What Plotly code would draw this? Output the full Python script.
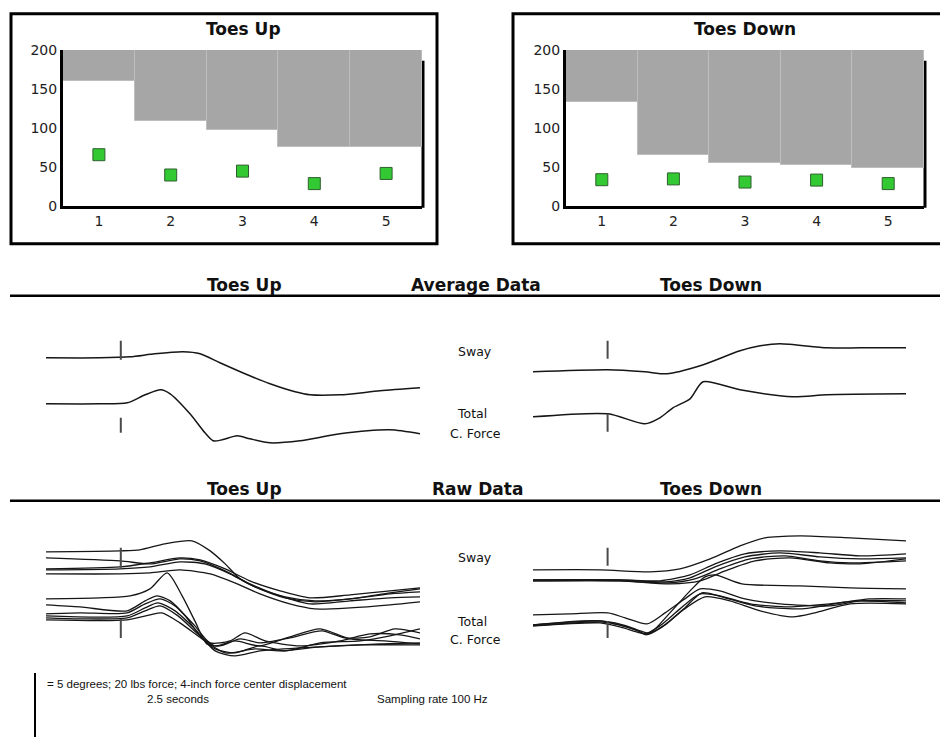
import plotly.graph_objects as go

W, H = 940, 737

# ---------------- top panels: scores per trial ----------------
trials = [1, 2, 3, 4, 5]
score_ceiling = 200
y_ticks = [0, 50, 100, 150, 200]
up_threshold = [160, 109, 98, 76, 76]
up_scores = [66, 40, 45, 29, 42]
down_threshold = [133, 66, 56, 53, 49]
down_scores = [34, 35, 31, 33.5, 29]

# ---------------- average traces (time in s, amplitude units) ----------------
onset_s = 2.0
avg_up_sway_t = [0, 1.44, 2.25, 2.91, 3.66, 4.12, 4.65, 5.32, 5.99, 6.66, 7.06, 7.86, 8.93, 10]
avg_up_sway_v = [10.3, 10.3, 10.4, 10.7, 10.9, 10.7, 9.8, 8.7, 7.7, 6.9, 6.6, 6.6, 7.0, 7.3]
avg_up_force_t = [0, 1.44, 2.17, 2.65, 3.07, 3.32, 3.85, 4.25, 4.47, 4.71, 5.11, 5.45, 5.99, 6.79, 7.86, 9.2, 10]
avg_up_force_v = [5.7, 5.7, 5.8, 6.6, 7.1, 6.7, 4.7, 2.8, 2.0, 2.1, 2.5, 2.2, 1.8, 2.0, 2.7, 3.1, 2.7]
avg_down_sway_t = [0, 2.01, 3.0, 3.59, 4.48, 5.55, 6.09, 6.62, 7.88, 8.77, 10]
avg_down_sway_v = [8.9, 9.1, 8.9, 8.7, 9.5, 11.0, 11.5, 11.7, 11.3, 11.3, 11.3]
avg_down_force_t = [0, 2.01, 3.0, 3.4, 3.75, 4.21, 4.56, 5.55, 6.97, 7.88, 10]
avg_down_force_v = [4.4, 4.7, 3.7, 4.3, 5.3, 6.2, 7.9, 7.1, 6.4, 6.6, 6.7]
avg_up_marks = {"sway": [12.0, 10.1], "force": [4.3, 2.8]}
avg_down_marks = {"sway": [12.0, 10.2], "force": [4.7, 2.9]}

# ---------------- raw traces: one (t, v) pair per trial ----------------
raw_up_sway = [
    ([0, 1.98, 2.51, 3.18, 3.9, 4.39, 4.79, 5.19, 5.72, 6.39, 7.19, 8.13, 9.2, 10],
     [10.9, 11.0, 11.1, 11.7, 12.0, 11.0, 9.7, 8.2, 7.2, 6.4, 6.0, 6.2, 6.8, 7.2]),
    ([0, 1.98, 2.78, 3.58, 4.12, 4.79, 5.45, 6.26, 7.06, 8.13, 9.2, 10],
     [10.3, 10.0, 9.7, 10.2, 10.0, 9.0, 7.7, 6.5, 5.7, 6.0, 6.3, 6.4]),
    ([0, 1.98, 2.78, 3.58, 4.12, 4.79, 5.45, 6.26, 7.06, 8.13, 9.2, 10],
     [9.2, 9.4, 9.8, 10.3, 10.1, 9.2, 8.0, 7.0, 6.3, 6.6, 7.0, 7.3]),
    ([0, 1.98, 2.78, 3.58, 4.25, 4.92, 5.59, 6.39, 7.19, 8.13, 9.2, 10],
     [9.1, 9.2, 9.4, 9.9, 9.7, 8.7, 7.4, 6.3, 5.9, 6.2, 6.7, 6.9]),
    ([0, 1.98, 2.78, 3.58, 4.39, 5.05, 5.72, 6.52, 7.19, 8.13, 9.2, 10],
     [8.7, 8.7, 8.8, 9.1, 8.7, 7.8, 6.7, 5.7, 5.2, 5.3, 5.6, 5.9]),
]
raw_up_force = [
    ([0, 1.44, 2.25, 2.78, 3.24, 3.64, 3.98, 4.3, 4.65, 5.19, 5.72, 6.52, 7.38, 7.99, 8.66, 9.33, 10],
     [6.2, 6.3, 6.5, 7.2, 8.8, 6.5, 4.0, 1.7, 1.5, 2.2, 1.8, 2.3, 3.0, 2.3, 2.4, 3.2, 2.8]),
    ([0, 0.91, 2.17, 2.65, 2.97, 3.32, 3.72, 4.12, 4.52, 5.05, 5.72, 6.39, 7.33, 8.4, 9.2, 10],
     [5.6, 5.4, 5.0, 6.0, 6.5, 6.0, 4.5, 2.5, 1.2, 0.8, 1.5, 1.0, 1.8, 2.0, 2.5, 3.2]),
    ([0, 0.91, 2.17, 2.65, 3.05, 3.45, 3.98, 4.39, 4.92, 5.32, 5.86, 6.79, 7.86, 8.66, 9.47, 10],
     [4.7, 4.8, 4.8, 5.7, 6.2, 5.5, 3.5, 1.8, 2.0, 2.8, 2.0, 1.5, 2.0, 2.7, 2.6, 2.2]),
    ([0, 2.17, 2.65, 2.99, 3.45, 3.98, 4.52, 5.05, 5.72, 6.79, 7.86, 8.93, 10],
     [4.5, 4.5, 5.3, 5.8, 5.0, 3.2, 1.0, 0.5, 1.0, 1.3, 1.5, 1.7, 1.8]),
    ([0, 0.91, 2.17, 2.65, 3.05, 3.53, 4.12, 4.52, 5.05, 5.72, 6.52, 7.33, 8.13, 9.06, 10],
     [4.3, 4.2, 4.3, 5.0, 5.5, 4.5, 2.5, 1.5, 2.0, 1.5, 2.4, 3.2, 2.2, 2.0, 1.7]),
    ([0, 2.17, 2.78, 3.1, 3.58, 4.25, 4.79, 5.59, 6.26, 7.33, 8.4, 10],
     [4.1, 4.1, 4.6, 4.8, 3.8, 2.0, 0.8, 1.2, 1.0, 1.4, 1.6, 1.6]),
]
raw_down_sway = [
    ([0, 1.8, 3.14, 3.94, 4.75, 5.55, 6.22, 7.16, 8.5, 10],
     [9.1, 9.1, 8.9, 9.2, 10.2, 11.5, 12.3, 12.5, 12.3, 12.0]),
    ([0, 2.33, 3.4, 4.21, 4.88, 5.68, 6.62, 7.69, 8.77, 10],
     [8.1, 8.1, 8.0, 8.6, 9.7, 10.7, 11.0, 10.8, 10.5, 10.7]),
    ([0, 2.33, 3.54, 4.21, 4.88, 5.68, 6.62, 7.69, 8.77, 10],
     [8.1, 8.1, 7.9, 8.3, 9.4, 10.4, 10.8, 10.4, 10.2, 10.3]),
    ([0, 2.33, 3.62, 4.34, 5.01, 5.82, 6.76, 7.69, 8.5, 10],
     [8.0, 8.0, 7.8, 8.2, 9.2, 10.2, 10.5, 10.0, 9.8, 10.0]),
    ([0, 2.33, 3.67, 4.48, 5.15, 5.95, 6.89, 7.96, 8.77, 10],
     [8.0, 8.0, 7.7, 8.0, 9.0, 10.0, 10.3, 9.8, 9.7, 10.2]),
]
raw_down_force = [
    ([0, 1.8, 2.87, 3.14, 3.67, 4.21, 4.61, 4.88, 5.6, 7.16, 8.5, 10],
     [3.6, 4.0, 3.0, 2.8, 4.8, 7.0, 8.4, 8.6, 7.7, 7.5, 7.3, 7.2]),
    ([0, 0.99, 2.01, 2.47, 3.06, 3.54, 4.07, 4.48, 5.01, 5.68, 6.62, 7.96, 8.77, 10],
     [4.6, 4.7, 4.8, 4.3, 3.7, 4.8, 6.2, 7.2, 7.0, 6.2, 5.7, 5.5, 6.0, 6.0]),
    ([0, 1.8, 2.2, 2.73, 3.0, 3.4, 3.94, 4.48, 5.01, 5.82, 6.89, 7.96, 8.77, 10],
     [3.6, 4.0, 3.8, 3.2, 2.7, 3.5, 5.2, 6.7, 6.5, 5.7, 5.4, 5.7, 6.0, 5.8]),
    ([0, 1.8, 2.33, 2.81, 3.03, 3.46, 3.99, 4.61, 5.28, 6.09, 6.97, 7.56, 8.5, 10],
     [3.5, 3.9, 3.6, 3.0, 2.6, 3.4, 5.0, 6.4, 6.0, 5.0, 4.4, 4.8, 5.7, 5.7]),
    ([0, 1.8, 2.33, 2.87, 3.08, 3.54, 4.07, 4.53, 5.15, 5.95, 7.16, 8.23, 9.03, 10],
     [3.5, 3.8, 3.4, 2.8, 2.7, 3.6, 5.3, 6.8, 6.3, 5.5, 5.2, 5.8, 6.2, 6.2]),
]
raw_up_marks = {"sway": [11.3, 9.3], "force": [4.2, 2.3]}
raw_down_marks = {"sway": [11.3, 9.5], "force": [4.0, 2.3]}

# ---------------- helpers for layout positions ----------------
# vertical calibration of the page capture (measured: out = 0.978*y + 7.3)
V_SCALE, V_OFF = 0.978, 7.3

def ypx(y):
    return (y - V_OFF) / V_SCALE

def px_x(a, b):
    return [a / W, b / W]

def px_y(top, bottom):
    return [1 - ypx(bottom) / H, 1 - ypx(top) / H]

TXT = "DejaVu Sans"
BOLD = "DejaVu Sans"

fig = go.Figure()

BAR_GRAY = "#a6a6a6"
GREEN = "#33c933"

# top bars + scores
for i, (thr, sc) in enumerate([(up_threshold, up_scores), (down_threshold, down_scores)]):
    ax = "" if i == 0 else "2"
    fig.add_trace(go.Bar(
        x=trials, y=[score_ceiling - t for t in thr], base=thr, width=1,
        marker=dict(color=BAR_GRAY, line=dict(color="#bdbdbd", width=1)),
        xaxis="x" + ax, yaxis="y" + ax, showlegend=False, hoverinfo="skip"))
    fig.add_trace(go.Scatter(
        x=trials, y=sc, mode="markers",
        marker=dict(symbol="square", size=12, color=GREEN, line=dict(color="#2f5f2f", width=1)),
        xaxis="x" + ax, yaxis="y" + ax, showlegend=False, cliponaxis=False))

LINE = dict(color="#161616", width=1.5, shape="spline", smoothing=0.7)
RAWLINE = dict(color="#161616", width=1.3, shape="spline", smoothing=0.7)
MARK = dict(color="#4a4a4a", width=2)

def add_line(t, v, ax, style):
    fig.add_trace(go.Scatter(x=t, y=v, mode="lines", line=style,
                             xaxis="x" + ax, yaxis="y" + ax, showlegend=False,
                             hoverinfo="skip"))

def add_marks(marks, ax):
    for key in ("sway", "force"):
        add_line([onset_s, onset_s], marks[key], ax, MARK)

# average panels
add_line(avg_up_sway_t, avg_up_sway_v, "3", LINE)
add_line(avg_up_force_t, avg_up_force_v, "3", LINE)
add_marks(avg_up_marks, "3")
add_line(avg_down_sway_t, avg_down_sway_v, "4", LINE)
add_line(avg_down_force_t, avg_down_force_v, "4", LINE)
add_marks(avg_down_marks, "4")

# raw panels
for t, v in raw_up_sway + raw_up_force:
    add_line(t, v, "5", RAWLINE)
add_marks(raw_up_marks, "5")
for t, v in raw_down_sway + raw_down_force:
    add_line(t, v, "6", RAWLINE)
add_marks(raw_down_marks, "6")

# ---------------- axes ----------------
def bar_x(domain):
    return dict(domain=domain, range=[0.5, 5.5], tickvals=trials, showline=True,
                linewidth=3, linecolor="black", ticks="", showgrid=False, zeroline=False,
                layer="below traces", tickfont=dict(family=TXT, size=14, color="#222"),
                fixedrange=True)

def bar_y(domain, anchor):
    return dict(domain=domain, range=[0, score_ceiling], tickvals=y_ticks, showline=True,
                linewidth=3, linecolor="black", ticks="", showgrid=False, zeroline=False,
                layer="below traces", tickfont=dict(family=TXT, size=14, color="#222"),
                anchor=anchor, fixedrange=True)

def hidden(domain, rng, anchor):
    return dict(domain=domain, range=rng, visible=False, anchor=anchor, fixedrange=True)

bar_ydom = px_y(49.3, 205.5)
avg_ydom = px_y(330, 460)
raw_ydom = px_y(530, 660)
left_xdom = px_x(46, 420)
right_xdom = px_x(533, 906)
trace_t = [0, 10]
trace_v = [0, 13]

layout = dict(
    width=W, height=H, margin=dict(l=0, r=0, t=0, b=0),
    paper_bgcolor="white", plot_bgcolor="rgba(0,0,0,0)", bargap=0,
    showlegend=False,
    xaxis=dict(bar_x(px_x(63, 422)), anchor="y"),
    yaxis=bar_y(bar_ydom, "x"),
    xaxis2=dict(bar_x(px_x(566, 924)), anchor="y2"),
    yaxis2=bar_y(bar_ydom, "x2"),
    xaxis3=hidden(left_xdom, trace_t, "y3"), yaxis3=hidden(avg_ydom, trace_v, "x3"),
    xaxis4=hidden(right_xdom, trace_t, "y4"), yaxis4=hidden(avg_ydom, trace_v, "x4"),
    xaxis5=hidden(left_xdom, trace_t, "y5"), yaxis5=hidden(raw_ydom, trace_v, "x5"),
    xaxis6=hidden(right_xdom, trace_t, "y6"), yaxis6=hidden(raw_ydom, trace_v, "x6"),
)
fig.update_layout(**layout)

# ---------------- shapes ----------------
def pline(x0, y0, x1, y1, w=2.5, layer="above"):
    fig.add_shape(type="line", xref="paper", yref="paper",
                  x0=x0 / W, x1=x1 / W, y0=1 - ypx(y0) / H, y1=1 - ypx(y1) / H,
                  line=dict(color="black", width=w), layer=layer)

def prect(x0, y0, x1, y1):
    fig.add_shape(type="rect", xref="paper", yref="paper",
                  x0=x0 / W, x1=x1 / W, y0=1 - ypx(y1) / H, y1=1 - ypx(y0) / H,
                  line=dict(color="black", width=3), fillcolor="rgba(0,0,0,0)", layer="below")

prect(11, 13, 437, 243)
prect(513, 13, 960, 243)
# right-hand frame lines of the bar plots (hidden behind bars)
pline(423, 60, 423, 207, w=3, layer="below")
pline(925, 60, 925, 207, w=3, layer="below")
# section rules
pline(10, 295, 960, 295, w=2.5)
pline(10, 500, 960, 500, w=2.5)
# scale bar
pline(35, 672, 35, 760, w=2)

# ---------------- text ----------------
def text(s, x, y, size, bold=False, anchor="center", family=None):
    fig.add_annotation(text=("<b>%s</b>" % s) if bold else s, x=x / W, y=1 - ypx(y) / H,
                       xref="paper", yref="paper", showarrow=False, xanchor=anchor,
                       yanchor="middle",
                       font=dict(family=family or (BOLD if bold else TXT), size=size, color="#111"))

text("Toes Up", 243, 28, 17, bold=True)
text("Toes Down", 745, 28, 17, bold=True)
text("Toes Up", 244, 284, 17, bold=True)
text("Average Data", 476, 284, 17, bold=True)
text("Toes Down", 711, 284, 17, bold=True)
text("Toes Up", 244, 488, 17, bold=True)
text("Raw Data", 477, 488, 17, bold=True)
text("Toes Down", 711, 488, 17, bold=True)

for y_sway, y_tot, y_cf in [(351, 413, 433), (557, 621, 639)]:
    text("Sway", 475, y_sway, 12.5)
    text("Total", 472, y_tot, 12.5)
    text("C. Force", 475, y_cf, 12.5)

SMALL = "Liberation Sans, sans-serif"
text("= 5 degrees; 20 lbs force; 4-inch force center displacement", 45, 683, 11.5,
     anchor="left", family=SMALL)
text("2.5 seconds", 178, 698, 11.5, family=SMALL)
text("Sampling rate 100 Hz", 432, 698, 11.5, family=SMALL)

POST = (
    "var s=document.createElement('style');"
    "s.innerHTML='html,body{margin:0!important;padding:0!important;overflow:hidden;}';"
    "document.head.appendChild(s);"
)
fig.write_html("out.html", config={"displayModeBar": False}, post_script=POST)
